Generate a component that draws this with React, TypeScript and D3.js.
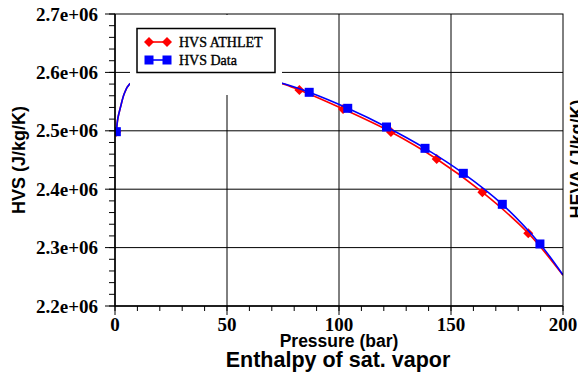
import React from 'react';
import * as d3 from 'd3';

const W = 578;
const H = 378;
const PL = 115, PR = 563, PT = 14, PB = 306;

const xTicks = [0, 50, 100, 150, 200];
const xMinorTicks = d3.range(0, 201, 10);
const yTicks = [2.2e6, 2.3e6, 2.4e6, 2.5e6, 2.6e6, 2.7e6];
const yTickLabels = ['2.2e+06', '2.3e+06', '2.4e+06', '2.5e+06', '2.6e+06', '2.7e+06'];
const yMinorTicks = d3.range(2.2e6, 2.7e6 + 1, 0.02e6);

// HVS Data (blue) curve
const dataLineP = [0.6, 1.3, 2.5, 4.2, 6.4, 12, 22, 35, 50, 62, 74.6, 86.7, 103.9, 121.2, 138.4, 155.5, 172.9, 189.7, 200];
const dataLineH = [2.4985e6, 2.5219e6, 2.5412e6, 2.5642e6, 2.5796e6, 2.589e6, 2.596e6, 2.598e6, 2.596e6, 2.59e6, 2.5813e6, 2.5659e6, 2.5385e6, 2.5065e6, 2.47e6, 2.4272e6, 2.3741e6, 2.3062e6, 2.2531e6];
// HVS ATHLET (red) curve
const athLineP = [0.6, 1.3, 2.5, 4.2, 6.4, 12, 22, 35, 50, 62, 74.6, 82.3, 101.8, 123.2, 143.6, 164.0, 184.5, 200];
const athLineH = [2.4985e6, 2.5219e6, 2.5412e6, 2.5642e6, 2.5796e6, 2.589e6, 2.596e6, 2.598e6, 2.596e6, 2.59e6, 2.5808e6, 2.5698e6, 2.5373e6, 2.4979e6, 2.4517e6, 2.3948e6, 2.3245e6, 2.2525e6];

const dataMarkP = [0.6, 86.7, 103.9, 121.2, 138.4, 155.5, 172.9, 189.7];
const dataMarkH = [2.4985e6, 2.5659e6, 2.5385e6, 2.5065e6, 2.47e6, 2.4272e6, 2.3741e6, 2.3062e6];
const athMarkP = [0.6, 82.3, 101.8, 123.2, 143.6, 164.0, 184.5];
const athMarkH = [2.4985e6, 2.5698e6, 2.5373e6, 2.4979e6, 2.4517e6, 2.3948e6, 2.3245e6];

const seriesNames = ['HVS ATHLET', 'HVS Data'];
const RED = '#ff0000';
const BLUE = '#0000ff';

const x = d3.scaleLinear().domain([0, 200]).range([PL, PR]);
const y = d3.scaleLinear().domain([2.2e6, 2.7e6]).range([PB, PT]);

const line = d3.line<[number, number]>()
  .x(d => x(d[0]))
  .y(d => y(d[1]))
  .curve(d3.curveCatmullRom.alpha(0.5));

const zip = (a: number[], b: number[]) => a.map((v, i) => [v, b[i]] as [number, number]);

const diamond = (cx: number, cy: number, r: number) =>
  `M${cx},${cy - r}L${cx + r},${cy}L${cx},${cy + r}L${cx - r},${cy}Z`;

export default function App() {
  const serif = '"Liberation Serif", "Times New Roman", serif';
  const sans = '"Liberation Sans", Arial, sans-serif';
  return (
    <svg width={W} height={H} style={{ position: 'absolute', left: 0, top: 0, background: '#fff' }}>
      <defs>
        <clipPath id="plot">
          <rect x={PL} y={PT} width={PR - PL} height={PB - PT} />
        </clipPath>
      </defs>
      <rect x={0} y={0} width={W} height={H} fill="#fff" />
      {/* grid */}
      {yTicks.slice(1, -1).map(t => (
        <line key={'gy' + t} x1={PL} x2={PR} y1={y(t)} y2={y(t)} stroke="#000" strokeWidth={1} />
      ))}
      {xTicks.slice(1, -1).map(t => (
        <line key={'gx' + t} x1={x(t)} x2={x(t)} y1={PT} y2={PB} stroke="#000" strokeWidth={1} />
      ))}
      <g clipPath="url(#plot)">
        <path d={line(zip(athLineP, athLineH)) || ''} fill="none" stroke={RED} strokeWidth={1.6} />
        {athMarkP.map((p, i) => (
          <path key={'am' + i} d={diamond(x(p), y(athMarkH[i]), 5)} fill={RED} />
        ))}
        <path d={line(zip(dataLineP, dataLineH)) || ''} fill="none" stroke={BLUE} strokeWidth={1.6} />
        {dataMarkP.map((p, i) => (
          <rect key={'dm' + i} x={x(p) - 4.5} y={y(dataMarkH[i]) - 4.5} width={9} height={9} fill={BLUE} />
        ))}
      </g>
      {/* legend background */}
      <rect x={130} y={PT + 1} width={152} height={80} fill="#fff" />
      <rect x={137} y={28.5} width={138} height={44} fill="#fff" stroke="#000" strokeWidth={1.5} />
      <line x1={149} x2={167} y1={42} y2={42} stroke={RED} strokeWidth={1.6} />
      <path d={diamond(149, 42, 5)} fill={RED} />
      <path d={diamond(167, 42, 5)} fill={RED} />
      <line x1={149} x2={167} y1={60} y2={60} stroke={BLUE} strokeWidth={1.6} />
      <rect x={144.5} y={55.5} width={9} height={9} fill={BLUE} />
      <rect x={162.5} y={55.5} width={9} height={9} fill={BLUE} />
      <text x={179} y={47} fontFamily={serif} fontSize={14} fill="#000" stroke="#000" strokeWidth={0.35}>{seriesNames[0]}</text>
      <text x={179} y={65} fontFamily={serif} fontSize={14} fill="#000" stroke="#000" strokeWidth={0.35}>{seriesNames[1]}</text>
      {/* frame */}
      <rect x={PL} y={PT} width={PR - PL} height={PB - PT} fill="none" stroke="#000" strokeWidth={1} />
      <line x1={PL} x2={PL} y1={PT} y2={PB} stroke="#000" strokeWidth={1.5} />
      <line x1={PL} x2={PR} y1={PB} y2={PB} stroke="#000" strokeWidth={1.5} />
      {/* y ticks */}
      {yMinorTicks.map(t => (
        <line key={'ym' + t} x1={PL - 6} x2={PL} y1={y(t)} y2={y(t)} stroke="#000" strokeWidth={1} />
      ))}
      {yTicks.map((t, i) => (
        <g key={'yt' + t}>
          <line x1={PL - 10} x2={PL} y1={y(t)} y2={y(t)} stroke="#000" strokeWidth={1} />
          <text x={98} y={y(t) + 6.5} textAnchor="end" fontFamily={serif} fontWeight="bold" fontSize={19} fill="#000">
            {yTickLabels[i]}
          </text>
        </g>
      ))}
      {/* x ticks */}
      {xMinorTicks.map(t => (
        <line key={'xm' + t} x1={x(t)} x2={x(t)} y1={PB} y2={PB + 5} stroke="#000" strokeWidth={1} />
      ))}
      {xTicks.map(t => (
        <g key={'xt' + t}>
          <line x1={x(t)} x2={x(t)} y1={PB} y2={PB + 9} stroke="#000" strokeWidth={1} />
          <text x={x(t)} y={331} textAnchor="middle" fontFamily={serif} fontWeight="bold" fontSize={19} fill="#000">
            {t}
          </text>
        </g>
      ))}
      {/* axis titles */}
      <text x={339} y={347} textAnchor="middle" fontFamily={sans} fontWeight="bold" fontSize={17.5} fill="#000">
        Pressure (bar)
      </text>
      <text x={338} y={367} textAnchor="middle" fontFamily={sans} fontWeight="bold" fontSize={21.5} fill="#000">
        Enthalpy of sat. vapor
      </text>
      <text transform="translate(25,160) rotate(-90)" textAnchor="middle" fontFamily={sans} fontWeight="bold" fontSize={18} fill="#000">
        HVS (J/kg/K)
      </text>
      <text transform="translate(583,159) rotate(-90)" textAnchor="middle" fontFamily={sans} fontWeight="bold" fontSize={18} fill="#000">
        HEVA (J/kg/K)
      </text>
    </svg>
  );
}
